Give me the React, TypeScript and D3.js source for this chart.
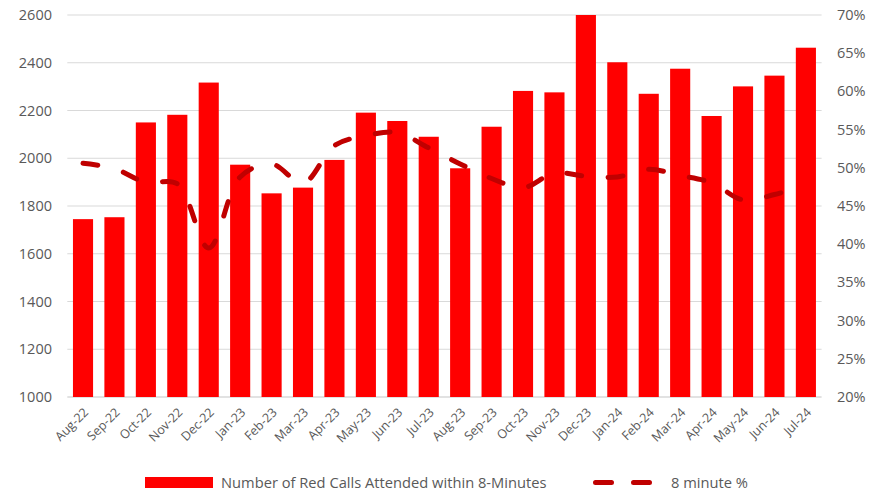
import React from "react";
import * as d3 from "d3";

// Monthly figures, Aug 2022 – Jul 2024
const months = [
  "Aug-22", "Sep-22", "Oct-22", "Nov-22", "Dec-22", "Jan-23", "Feb-23", "Mar-23",
  "Apr-23", "May-23", "Jun-23", "Jul-23", "Aug-23", "Sep-23", "Oct-23", "Nov-23",
  "Dec-23", "Jan-24", "Feb-24", "Mar-24", "Apr-24", "May-24", "Jun-24", "Jul-24",
];

// Red calls attended within 8 minutes (bars, left axis)
const redCalls = [
  1745, 1753, 2150, 2182, 2317, 1973, 1853, 1877,
  1993, 2191, 2156, 2090, 1958, 2132, 2282, 2276,
  2600, 2402, 2270, 2375, 2177, 2301, 2346, 2463,
];

// Share attended within 8 minutes, in percent (dashed line, right axis)
const eightMinutePct = [
  50.6, 49.9, 48.1, 47.9, 39.5, 48.8, 50.5, 48.0,
  52.9, 54.2, 54.6, 52.6, 50.5, 48.6, 47.4, 49.3,
  48.9, 48.8, 49.8, 49.0, 48.05, 45.8, 46.5, 47.8,
];

const leftTicks = [1000, 1200, 1400, 1600, 1800, 2000, 2200, 2400, 2600];
const rightTicks = [20, 25, 30, 35, 40, 45, 50, 55, 60, 65, 70];

const barLabel = "Number of Red Calls Attended within 8-Minutes";
const lineLabel = "8 minute %";

const W = 881;
const H = 493;
const plot = { left: 67.3, right: 821.6, top: 15, bottom: 397 };

const FONT = "'Open Sans', 'Noto Sans', sans-serif";
const TEXT = "#595959";
const GRID = "#d9d9d9";
const BAR = "#ff0000";
const LINE = "#c00000";

export default function App() {
  const x = d3
    .scaleBand<string>()
    .domain(months)
    .range([plot.left, plot.right])
    .paddingInner(0.36)
    .paddingOuter(0.18);

  const yLeft = d3.scaleLinear().domain([1000, 2600]).range([plot.bottom, plot.top]);
  const yRight = d3.scaleLinear().domain([20, 70]).range([plot.bottom, plot.top]);

  const cx = (m: string) => (x(m) ?? 0) + x.bandwidth() / 2;

  const linePath = d3
    .line<number>()
    .x((_, i) => cx(months[i]))
    .y((v) => yRight(v))
    .curve(d3.curveCatmullRom.alpha(0.5))(eightMinutePct) ?? "";

  return (
    <svg
      width={W}
      height={H}
      viewBox={`0 0 ${W} ${H}`}
      style={{ position: "absolute", left: 0, top: 0, background: "#fff" }}
      fontFamily={FONT}
    >
      {/* horizontal gridlines from the left axis */}
      {leftTicks.map((t) => (
        <line
          key={`g${t}`}
          x1={plot.left}
          x2={plot.right}
          y1={yLeft(t)}
          y2={yLeft(t)}
          stroke={GRID}
          strokeWidth={t === 1000 ? 1.5 : 1}
        />
      ))}

      {/* bars */}
      {months.map((m, i) => (
        <rect
          key={`b${m}`}
          x={x(m)}
          y={yLeft(redCalls[i])}
          width={x.bandwidth()}
          height={yLeft(1000) - yLeft(redCalls[i])}
          fill={BAR}
        />
      ))}

      {/* 8-minute percentage line */}
      <path
        d={linePath}
        fill="none"
        stroke={LINE}
        strokeWidth={5}
        strokeLinecap="round"
        strokeDasharray="15 26.5"
      />

      {/* left axis labels */}
      {leftTicks.map((t) => (
        <text
          key={`l${t}`}
          x={52}
          y={yLeft(t)}
          dy="0.35em"
          textAnchor="end"
          fontSize={14.5}
          fill={TEXT}
        >
          {t}
        </text>
      ))}

      {/* right axis labels */}
      {rightTicks.map((t) => (
        <text
          key={`r${t}`}
          x={837}
          y={yRight(t)}
          dy="0.35em"
          textAnchor="start"
          fontSize={14.5}
          fill={TEXT}
        >
          {`${t}%`}
        </text>
      ))}

      {/* month labels */}
      {months.map((m) => (
        <text
          key={`x${m}`}
          transform={`translate(${cx(m) + 3},${plot.bottom + 13}) rotate(-45)`}
          dy="0.35em"
          textAnchor="end"
          fontSize={12.5}
          fill={TEXT}
        >
          {m}
        </text>
      ))}

      {/* legend */}
      <rect x={145} y={477} width={68} height={11} fill={BAR} />
      <text x={221} y={482.5} dy="0.35em" fontSize={14.7} fill={TEXT}>
        {barLabel}
      </text>
      <line
        x1={595.5}
        x2={649.5}
        y1={482.5}
        y2={482.5}
        stroke={LINE}
        strokeWidth={5}
        strokeLinecap="round"
        strokeDasharray="16 22"
      />
      <text x={671} y={482.5} dy="0.35em" fontSize={14.7} fill={TEXT}>
        {lineLabel}
      </text>
    </svg>
  );
}
